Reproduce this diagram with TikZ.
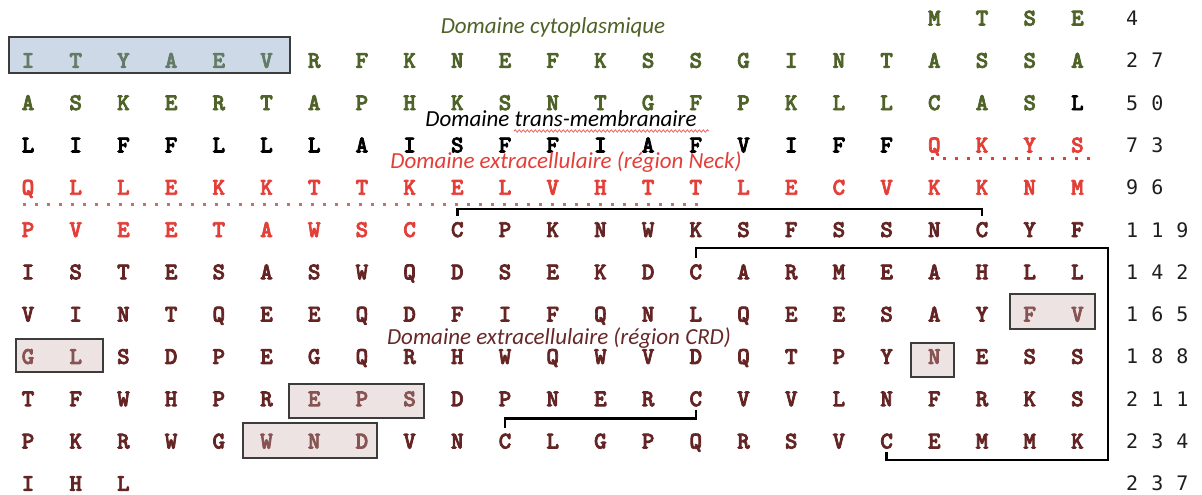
\documentclass[tikz,border=0pt]{standalone}
\usepackage{fontspec}
\usetikzlibrary{calc,decorations.pathmorphing}
\newfontfamily\lblfont{Carlito}
\newfontfamily\numfont{DejaVu Sans Mono}
\newfontfamily\seqfont{lmmonolt10-bold.otf}[FakeBold=3]
\definecolor{cgreen}{RGB}{79,98,40}
\definecolor{cred}{RGB}{228,62,56}
\definecolor{cmaroon}{RGB}{99,36,35}
\definecolor{ccrd}{RGB}{105,40,40}
\definecolor{cnum}{RGB}{30,30,30}
\definecolor{cdot}{RGB}{196,112,112}
\definecolor{bluefill}{RGB}{130,162,197}
\definecolor{pinkfill}{RGB}{205,175,175}
\definecolor{boxline}{RGB}{60,60,60}
\newcommand\seqrow[4]{%
  \foreach \ch [count=\k from #2] in {#4}
    \node[aa, text=#3] (r#1c\k) at ({28+47.7*\k}, {25.5+42.3*#1}) {\ch};}
\newcommand\nsp{\kern13pt}
\tikzset{
  aa/.style={anchor=base, inner sep=0pt, font=\seqfont\fontsize{24}{24}\selectfont},
  lbl/.style={anchor=base, inner sep=0pt, font=\lblfont\itshape\fontsize{23}{23}\selectfont},
  num/.style={anchor=base west, inner sep=0pt, text=cnum, font=\numfont\fontsize{20}{20}\selectfont},
  hlblue/.style={draw=boxline, line width=1.3pt, fill=bluefill, fill opacity=0.4},
  hlpink/.style={draw=boxline, line width=1.3pt, fill=pinkfill, fill opacity=0.35},
  bond/.style={draw=black, line width=2.6pt, line cap=butt},
  dots/.style={line width=3pt, dash pattern=on 3pt off 9pt},
}
\begin{document}
\begin{tikzpicture}[x=1pt, y=-1pt]
\useasboundingbox[fill=white] (0,0) rectangle (1202,495);
% sequence
\seqrow{0}{19}{cgreen}{M,T,S,E}
\seqrow{1}{0}{cgreen}{I,T,Y,A,E,V,R,F,K,N,E,F,K,S,S,G,I,N,T,A,S,S,A}
\seqrow{2}{0}{cgreen}{A,S,K,E,R,T,A,P,H,K,S,N,T,G,F,P,K,L,L,C,A,S}
\seqrow{2}{22}{black}{L}
\seqrow{3}{0}{black}{L,I,F,F,L,L,L,A,I,S,F,F,I,A,F,V,I,F,F}
\seqrow{3}{19}{cred}{Q,K,Y,S}
\seqrow{4}{0}{cred}{Q,L,L,E,K,K,T,T,K,E,L,V,H,T,T,L,E,C,V,K,K,N,M}
\seqrow{5}{0}{cred}{P,V,E,E,T,A,W,S,C}
\seqrow{5}{9}{cmaroon}{C,P,K,N,W,K,S,F,S,S,N,C,Y,F}
\seqrow{6}{0}{cmaroon}{I,S,T,E,S,A,S,W,Q,D,S,E,K,D,C,A,R,M,E,A,H,L,L}
\seqrow{7}{0}{cmaroon}{V,I,N,T,Q,E,E,Q,D,F,I,F,Q,N,L,Q,E,E,S,A,Y,F,V}
\seqrow{8}{0}{cmaroon}{G,L,S,D,P,E,G,Q,R,H,W,Q,W,V,D,Q,T,P,Y,N,E,S,S}
\seqrow{9}{0}{cmaroon}{T,F,W,H,P,R,E,P,S,D,P,N,E,R,C,V,V,L,N,F,R,K,S}
\seqrow{10}{0}{cmaroon}{P,K,R,W,G,W,N,D,V,N,C,L,G,P,Q,R,S,V,C,E,M,M,K}
\seqrow{11}{0}{cmaroon}{I,H,L}
% numbers
\node[num] (n0) at (1126, 25.5) {4};
\node[num] (n1) at (1126, 67.8) {2\nsp 7};
\node[num] (n2) at (1126, 110.1) {5\nsp 0};
\node[num] (n3) at (1126, 152.4) {7\nsp 3};
\node[num] (n4) at (1126, 194.7) {9\nsp 6};
\node[num] (n5) at (1126, 237.0) {1\nsp 1\nsp 9};
\node[num] (n6) at (1126, 279.3) {1\nsp 4\nsp 2};
\node[num] (n7) at (1126, 321.6) {1\nsp 6\nsp 5};
\node[num] (n8) at (1126, 363.9) {1\nsp 8\nsp 8};
\node[num] (n9) at (1126, 406.2) {2\nsp 1\nsp 1};
\node[num] (n10) at (1126, 448.5) {2\nsp 3\nsp 4};
\node[num] (n11) at (1126, 490.8) {2\nsp 3\nsp 7};
% highlighted motifs
\draw[hlblue] (9,37) rectangle (290,73);
\draw[hlpink] (1010,294) rectangle (1095,329);
\draw[hlpink] (16,339) rectangle (103,372);
\draw[hlpink] (911,343) rectangle (954,377);
\draw[hlpink] (289,384) rectangle (424,418);
\draw[hlpink] (243,423) rectangle (377,458);
% dotted domain boundaries
\draw[dots, cred] (931,158) -- (1096,158);
\draw[dots, cdot] (23,204) -- (706,204);
% disulfide bridges
\coordinate (bR) at (1108,460);
\draw[bond] ($(r5c9.north)+(0,-6)$) -- ++(0,-7) -| ($(r5c20.north)+(0,-6)$);
\draw[bond] ($(r6c14.north)+(0,-6)$) -- ++(0,-10) -| (bR) -| ($(r10c18.south)+(0,3)$);
\draw[bond] ($(r9c14.south)+(0,3)$) -- ++(0,9) -| ($(r10c10.north)+(0,-5)$);
% domain labels
\node[lbl, text=cgreen] (lcyto) at (553,34) {Domaine cytoplasmique};
\node[lbl, text=black] (ltm) at (561,126) {Domaine trans-membranaire};
\node[lbl, text=cred] (lneck) at (566,168) {Domaine extracellulaire (région Neck)};
\node[lbl, text=ccrd] (lcrd) at (559,344) {Domaine extracellulaire (région CRD)};
\draw[cred!80, line width=0.8pt, decorate, decoration={snake, amplitude=1.2pt, segment length=4pt}] (514,131) -- (709,131);
\end{tikzpicture}
\end{document}
